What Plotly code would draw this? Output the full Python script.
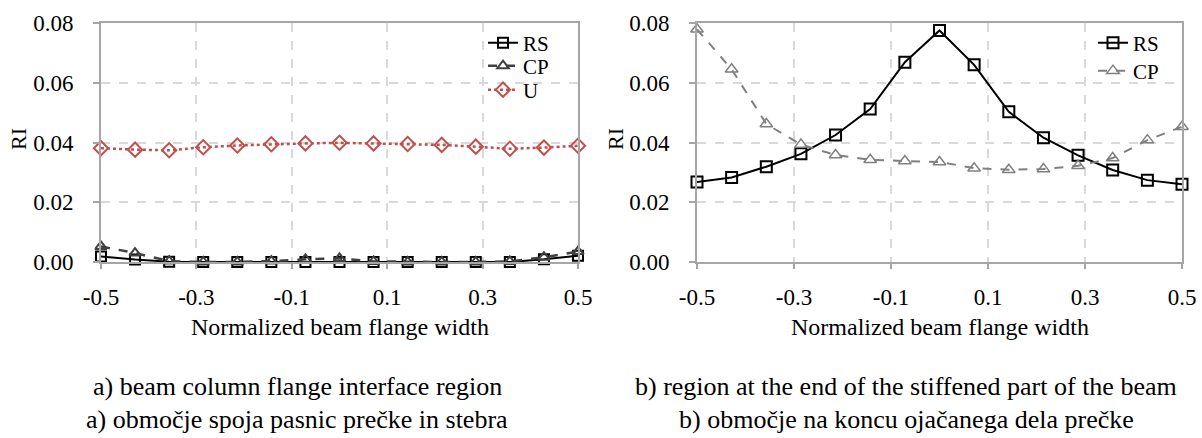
import plotly.graph_objects as go

# ---- data ----
x_vals = [-0.5, -0.4286, -0.3571, -0.2857, -0.2143, -0.1429, -0.0714, 0.0,
          0.0714, 0.1429, 0.2143, 0.2857, 0.3571, 0.4286, 0.5]

a_rs = [0.0018, 0.0008, 0.0001, 0.0000, 0.0000, 0.0000, 0.0000, 0.0000,
        0.0000, 0.0000, 0.0000, 0.0000, 0.0000, 0.0009, 0.0021]
a_cp = [0.0052, 0.0030, 0.0003, 0.0000, 0.0000, 0.0003, 0.0009, 0.0012,
        0.0002, 0.0000, 0.0000, 0.0000, 0.0002, 0.0016, 0.0035]
a_u = [0.0381, 0.0376, 0.0374, 0.0384, 0.0390, 0.0394, 0.0397, 0.0399,
       0.0397, 0.0395, 0.0392, 0.0386, 0.0379, 0.0383, 0.0389]

b_rs = [0.0268, 0.0283, 0.0319, 0.0362, 0.0425, 0.0512, 0.0669, 0.0775,
        0.0660, 0.0503, 0.0416, 0.0357, 0.0308, 0.0274, 0.0260]
b_cp = [0.0779, 0.0645, 0.0462, 0.0393, 0.0358, 0.0342, 0.0338, 0.0335,
        0.0314, 0.0309, 0.0311, 0.0322, 0.0348, 0.0408, 0.0453]

x_ticks = [-0.5, -0.3, -0.1, 0.1, 0.3, 0.5]
x_tick_text = ["-0.5", "-0.3", "-0.1", "0.1", "0.3", "0.5"]
y_ticks = [0.0, 0.02, 0.04, 0.06, 0.08]
y_tick_text = ["0.00", "0.02", "0.04", "0.06", "0.08"]

x_title = "Normalized beam flange width"
y_title = "RI"
captions_a = ["a) beam column flange interface region",
              "a) območje spoja pasnic prečke in stebra"]
captions_b = ["b) region at the end of the stiffened part of the beam",
              "b) območje na koncu ojačanega dela prečke"]

FONT = "Liberation Serif, Times New Roman, DejaVu Serif, serif"
W, H = 1202, 438
AXC = "#a6a6a6"
GRIDC = "#d9d9d9"
RED = "#c0504d"

fig = go.Figure()

# Left panel
fig.add_trace(go.Scatter(x=x_vals, y=a_rs, name="RS", mode="lines+markers",
                         line=dict(color="black", width=2),
                         marker=dict(symbol="square-open", size=10, color="black", line=dict(width=2)),
                         cliponaxis=False, xaxis="x", yaxis="y", legend="legend"))
fig.add_trace(go.Scatter(x=x_vals, y=a_cp, name="CP", mode="lines+markers",
                         line=dict(color="#404040", width=2.5, dash="dash"),
                         marker=dict(symbol="triangle-up-open", size=10, color="#404040", line=dict(width=2)),
                         cliponaxis=False, xaxis="x", yaxis="y", legend="legend2"))
fig.add_trace(go.Scatter(x=x_vals, y=a_u, name="U", mode="lines+markers",
                         line=dict(color=RED, width=2.5, dash="dot"),
                         marker=dict(symbol="diamond-open", size=11, color=RED, line=dict(width=2)),
                         cliponaxis=False, xaxis="x", yaxis="y", legend="legend3"))

# Right panel
fig.add_trace(go.Scatter(x=x_vals, y=b_rs, name="RS", mode="lines+markers",
                         line=dict(color="black", width=2),
                         marker=dict(symbol="square-open", size=11, color="black", line=dict(width=2)),
                         cliponaxis=False, xaxis="x2", yaxis="y2", legend="legend4"))
fig.add_trace(go.Scatter(x=x_vals, y=b_cp, name="CP", mode="lines+markers",
                         line=dict(color="#808080", width=2, dash="dash"),
                         marker=dict(symbol="triangle-up-open", size=11, color="#808080", line=dict(width=1.5)),
                         cliponaxis=False, xaxis="x2", yaxis="y2", legend="legend5"))

top_px, bot_px = 23, 262
ydom = [1 - bot_px / H, 1 - top_px / H]
TICKF = dict(family=FONT, size=23, color="black")

def xaxis(domain, anchor):
    return dict(domain=domain, anchor=anchor, range=[-0.5, 0.5], automargin=False,
                tickvals=x_ticks, ticktext=x_tick_text,
                showline=True, linecolor=AXC, linewidth=2, mirror=True,
                ticks="outside", ticklen=5, tickcolor=AXC, tickwidth=2,
                showgrid=True, gridcolor=GRIDC, griddash="dash", gridwidth=1.5,
                zeroline=False, ticklabelstandoff=8, tickfont=TICKF)

def yaxis(domain, anchor):
    return dict(domain=domain, anchor=anchor, range=[0, 0.08], automargin=False,
                tickvals=y_ticks, ticktext=y_tick_text,
                showline=True, linecolor=AXC, linewidth=2, mirror=True,
                ticks="outside", ticklen=6, tickcolor=AXC, tickwidth=2,
                showgrid=True, gridcolor=GRIDC, griddash="dash", gridwidth=1.5,
                zeroline=False, ticklabelstandoff=15, tickfont=TICKF)

annotations = []
TF = dict(family=FONT, size=24, color="black")
RF = dict(family=FONT, size=22, color="black")
CF = dict(family=FONT, size=26, color="black")
# axis titles
for cx in [(101 + 578) / 2, (697 + 1182) / 2]:
    annotations.append(dict(text=x_title, x=cx / W, y=1 - 327 / H, xref="paper", yref="paper",
                            showarrow=False, xanchor="center", yanchor="middle", font=TF))
for rx in [18, 615]:
    annotations.append(dict(text=y_title, x=rx / W, y=1 - 139 / H, xref="paper", yref="paper",
                            showarrow=False, xanchor="center", yanchor="middle", textangle=-90, font=RF))
# captions
for i, t in enumerate(captions_a):
    annotations.append(dict(text=t, x=297 / W, y=1 - (386 + 33 * i) / H, xref="paper", yref="paper",
                            showarrow=False, xanchor="center", yanchor="middle", font=CF))
for i, t in enumerate(captions_b):
    annotations.append(dict(text=t, x=906 / W, y=1 - (386 + 33 * i) / H, xref="paper", yref="paper",
                            showarrow=False, xanchor="center", yanchor="middle", font=CF))

LEGF = dict(family=FONT, size=21, color="black")

def leg(text_x_px, row_y_px):
    # item origin so that the label text begins at text_x_px
    return dict(x=(text_x_px - 42) / W, y=1 - row_y_px / H, xanchor="left", yanchor="middle",
                bgcolor="rgba(0,0,0,0)", font=LEGF, borderwidth=0)

fig.update_layout(
    width=W, height=H,
    template="none",
    margin=dict(l=0, r=0, t=0, b=0),
    paper_bgcolor="white", plot_bgcolor="white",
    xaxis=xaxis([101 / W, 578 / W], "y"),
    yaxis=yaxis(ydom, "x"),
    xaxis2=xaxis([697 / W, 1182 / W], "y2"),
    yaxis2=yaxis(ydom, "x2"),
    legend=leg(525, 43),
    legend2=leg(525, 66),
    legend3=leg(525, 90),
    legend4=leg(1135, 43),
    legend5=leg(1135, 71),
    annotations=annotations,
    showlegend=True,
)

# remove the browser's default page margin so the figure sits at the window origin
fig.write_html("out.html", config={"displayModeBar": False},
               post_script="document.body.style.margin='0';document.body.style.overflow='hidden';")
